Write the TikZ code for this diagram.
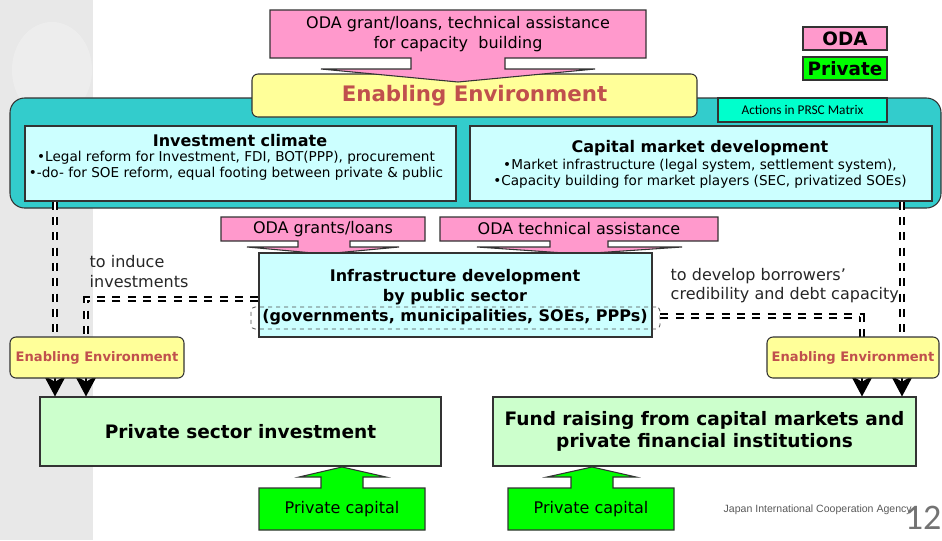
\documentclass[tikz,border=0pt]{standalone}
\usepackage{fontspec}
\setmainfont{DejaVu Sans}
\newfontfamily\calib{Carlito}
\newfontfamily\arialf{Liberation Sans}
\usetikzlibrary{arrows.meta,calc,fit}
\definecolor{odapink}{HTML}{FF99CC}
\definecolor{envyellow}{HTML}{FFFF99}
\definecolor{tealbg}{HTML}{33CCCC}
\definecolor{lcyan}{HTML}{CCFFFF}
\definecolor{aquab}{HTML}{00FFCC}
\definecolor{pgreen}{HTML}{00FF00}
\definecolor{lgreen}{HTML}{CCFFCC}
\definecolor{envred}{HTML}{C0504D}
\definecolor{panelgray}{HTML}{E8E8E8}
\definecolor{edgec}{HTML}{333333}
\begin{document}
\begin{tikzpicture}[x=0.75pt,y=-0.75pt,
  outl/.style={draw=edgec, line width=0.8pt},
  rbox/.style={fit={#1}, inner sep=0pt, outl},
  ddash/.style={draw=white, line width=1.2pt, dash pattern=on 6pt off 5.5pt,
     preaction={draw=black, line width=4.2pt, dash pattern=on 6pt off 5.5pt}},
  headtip/.style={line width=1pt, -{Stealth[length=16pt,width=17pt,inset=5pt]}},
  bodytxt/.style={font=\fontsize{12}{15}\selectfont, align=center},
  smalltxt/.style={font=\fontsize{10.2}{12.2}\selectfont, align=center},
  titletxt/.style={font=\fontsize{12}{15}\selectfont\bfseries, align=center},
  envtxt/.style={font=\fontsize{9.8}{11}\selectfont\bfseries, text=envred},
  bigtxt/.style={font=\fontsize{13.9}{16.5}\selectfont\bfseries, align=center},
  legtxt/.style={font=\fontsize{13.8}{15}\selectfont\bfseries},
  sidetxt/.style={font=\fontsize{12}{14.3}\selectfont, align=left, text=black!85, anchor=west}
]
\useasboundingbox (0,0) rectangle (942,540);
% background panel
\fill[panelgray] (0,0) rectangle (93,540);
\fill[white, opacity=0.25] (52,70) ellipse (40 and 48);

% teal panel
\draw[outl, fill=tealbg, rounded corners=11pt] (10,98) rectangle (941,208);
\node[rbox={(25,126)(456,201)}, fill=lcyan] (ic) {};
\node[rbox={(470,126)(932,201)}, fill=lcyan] (cm) {};
\node[titletxt] at (240,141) {Investment climate};
\node[smalltxt] at (236,166) {•Legal reform for Investment, FDI, BOT(PPP), procurement\\•-do- for SOE reform, equal footing between private \& public};
\node[titletxt] at (700,148) {Capital market development};
\node[smalltxt] at (700,173.5) {•Market infrastructure (legal system, settlement system),\\•Capacity building for market players (SEC, privatized SOEs)};
\node[rbox={(718,98)(887,122)}, fill=aquab] (prsc) {};
\node[font=\calib\fontsize{10}{11}\selectfont] at (prsc.center) {Actions in PRSC Matrix};

% enabling environment (top)
\node[rbox={(252,74)(697,117)}, fill=envyellow, rounded corners=4.5pt] (env) {};
\node[font=\fontsize{16}{18}\selectfont\bfseries, text=envred] at (474.5,96) {Enabling Environment};

% top ODA block arrow
\draw[outl, fill=odapink, line join=miter] (270,10) -- (646,10) -- (646,58) -- (505,58) -- (505,69) -- (595,69) -- (458,82) -- (321,69) -- (411,69) -- (411,58) -- (270,58) -- cycle;
\node[bodytxt] (topoda) at (458,34.5) {ODA grant/loans, technical assistance\\for capacity\ \ building};

% legend
\node[rbox={(803,27)(887,50)}, fill=odapink] (legoda) {};
\node[legtxt] at (legoda.center) {ODA};
\node[rbox={(803,57)(887,80)}, fill=pgreen] (legpriv) {};
\node[legtxt] at (legpriv.center) {Private};

% named connector coordinates
\coordinate (L1) at (55,299);
\coordinate (hl) at (86,299);
\coordinate (hr) at (862,316);
\coordinate (R1) at (902,316);
\path (10,337) coordinate (ee1nw) (184,378) coordinate (ee1se);
\path (767,337) coordinate (ee2nw) (939,378) coordinate (ee2se);

% dashed double connectors from the panel
\draw[ddash] (ic.south -| L1) -- (L1 |- ee1se);
\draw[ddash] (cm.south -| R1) -- (R1 |- ee2se);

% pink block arrows
\draw[outl, fill=odapink, line join=miter] (221,217) -- (425,217) -- (425,241) -- (350,241) -- (350,247) -- (399,247) -- (324,254) -- (247,247) -- (298,247) -- (298,241) -- (221,241) -- cycle;
\node[bodytxt] (grants) at (323,229) {ODA grants/loans};
\draw[outl, fill=odapink, line join=miter] (440,217) -- (718,217) -- (718,241) -- (608,241) -- (608,247) -- (682,247) -- (579,254) -- (477,247) -- (550,247) -- (550,241) -- (440,241) -- cycle;
\node[bodytxt] (techas) at (579,229) {ODA technical assistance};

% infrastructure box
\node[rbox={(259,253)(652,337)}, fill=lcyan] (infra) {};
\node[titletxt] at (455,297) {Infrastructure development\\by public sector\\(governments, municipalities, SOEs, PPPs)};
\node[fit={(251,307)(660,329)}, inner sep=0pt, draw=black!70, dashed, line width=0.6pt, rounded corners=3pt] (gov) {};

\draw[ddash] (infra.west |- hl) -- (hl) -- (hl |- ee1se);
\draw[ddash] (gov.east |- hr) -- (hr) -- (hr |- ee2se);

% side texts
\node[sidetxt] (induce) at (85,271.5) {to induce\\investments};
\node[sidetxt] (develop) at (666,286) {to develop borrowers'\\credibility and debt capacity};

% green target boxes
\node[rbox={(40,397)(441,466)}, fill=lgreen] (psi) {};
\node[bigtxt] at (psi.center) {Private sector investment};
\node[rbox={(493,397)(916,466)}, fill=lgreen] (fund) {};
\node[bigtxt] at (fund.center) {Fund raising from capital markets and\\private financial institutions};

% arrowheads
\draw[headtip] (L1 |- ee1se) -- (L1 |- psi.north);
\draw[headtip] (hl |- ee1se) -- (hl |- psi.north);
\draw[headtip] (hr |- ee2se) -- (hr |- fund.north);
\draw[headtip] (R1 |- ee2se) -- (R1 |- fund.north);

% small enabling environment boxes
\node[fit=(ee1nw)(ee1se), inner sep=0pt, outl, fill=envyellow, rounded corners=4.5pt] (ee1) {};
\node[envtxt] at (ee1.center) {Enabling Environment};
\node[fit=(ee2nw)(ee2se), inner sep=0pt, outl, fill=envyellow, rounded corners=4.5pt] (ee2) {};
\node[envtxt] at (ee2.center) {Enabling Environment};

% green block arrows
\draw[outl, fill=pgreen, line join=miter] (259,530) -- (259,488) -- (321,488) -- (321,477) -- (299,477) -- (342,467) -- (386,477) -- (363,477) -- (363,488) -- (425,488) -- (425,530) -- cycle;
\node[bodytxt] (pc1) at (342,509) {Private capital};
\draw[outl, fill=pgreen, line join=miter] (508,530) -- (508,488) -- (571,488) -- (571,477) -- (547,477) -- (592,467) -- (636,477) -- (613,477) -- (613,488) -- (674,488) -- (674,530) -- cycle;
\node[bodytxt] (pc2) at (591,509) {Private capital};

% footer
\node[font=\arialf\fontsize{7.9}{10}\selectfont, text=black!65, anchor=west] (jica) at (719,510) {Japan International Cooperation Agency};
\node[font=\calib\fontsize{27}{29}\selectfont, text=black!55, anchor=east] (pnum) at (946,518) {12};
\end{tikzpicture}
\end{document}
